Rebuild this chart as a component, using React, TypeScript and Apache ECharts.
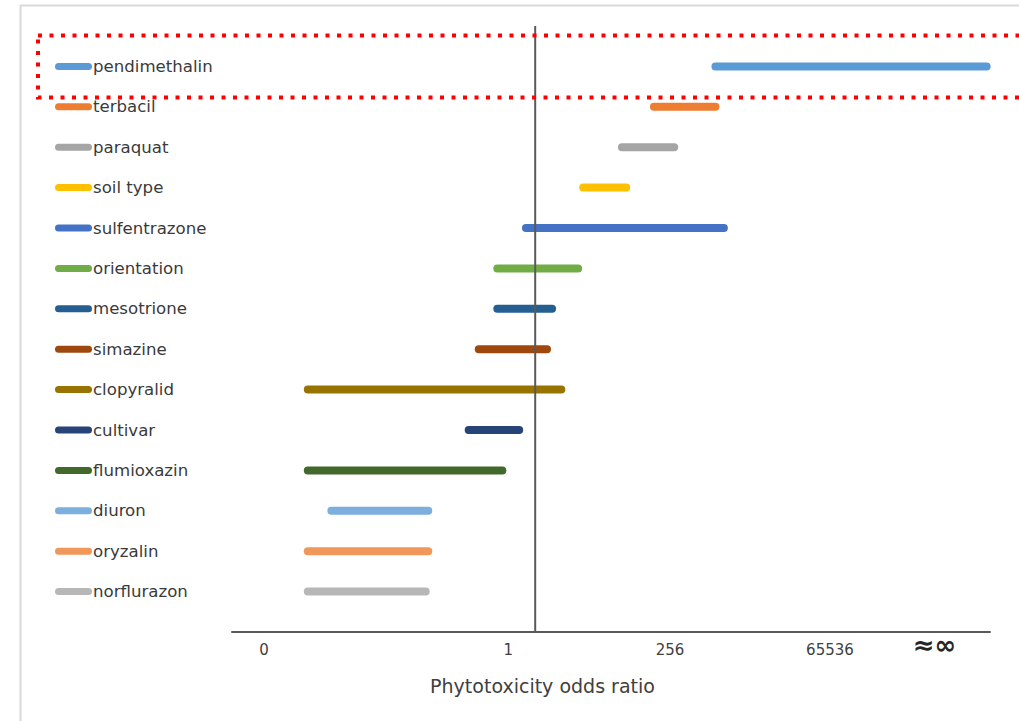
import React, { useEffect, useRef } from "react";
import * as echarts from "echarts";

// Factors, top to bottom
const factors = [
  "pendimethalin",
  "terbacil",
  "paraquat",
  "soil type",
  "sulfentrazone",
  "orientation",
  "mesotrione",
  "simazine",
  "clopyralid",
  "cultivar",
  "flumioxazin",
  "diuron",
  "oryzalin",
  "norflurazon",
];

// Interval ends on the (log2-like) odds ratio scale; 0 is an odds ratio of 1
const lowerEnds = [10.7, 7.05, 5.15, 2.85, -0.55, -2.25, -2.25, -3.35, -13.5, -3.95, -13.5, -12.1, -13.5, -13.5];
const upperEnds = [26.8, 10.7, 8.25, 5.4, 11.2, 2.55, 1.0, 0.7, 1.55, -0.95, -1.95, -6.35, -6.35, -6.5];

const colors = [
  "#5B9BD5", "#ED7D31", "#A5A5A5", "#FFC000", "#4472C4", "#70AD47", "#255E91",
  "#9E480E", "#997300", "#264478", "#43682B", "#7CAFDD", "#F1975A", "#B7B7B7",
];

// Tick labels and where they sit on the scale
const tickPositions = [-16.1, -1.6, 8.0, 17.5, 23.7];
const tickLabels = ["0", "1", "256", "65536", "≈∞"];

const referenceOdds = 0;
const axisTitle = "Phytotoxicity odds ratio";

const FONT = "DejaVu Sans";

export default function App() {
  const ref = useRef<HTMLDivElement>(null);

  useEffect(() => {
    if (!ref.current) return;
    const chart = echarts.init(ref.current, undefined, { renderer: "svg" });

    const intervalSeries = factors.map((name, i) => ({
      name,
      type: "line",
      color: colors[i],
      data: [
        [lowerEnds[i], i],
        [upperEnds[i], i],
      ],
      showSymbol: false,
      symbol: "none",
      lineStyle: { width: 8, color: colors[i], cap: "round" },
      silent: true,
      z: 2,
    }));

    const option: any = {
      animation: false,
      backgroundColor: "#ffffff",
      grid: { left: 232, right: 29, top: 26, bottom: 89, containLabel: false },
      legend: {
        data: factors,
        orient: "vertical",
        left: 55,
        top: 56.4,
        padding: 0,
        itemWidth: 37,
        itemHeight: 7,
        itemGap: 20.4,
        icon: "path://M3.5,0H33.5A3.5,3.5,0,0,1,33.5,7H3.5A3.5,3.5,0,0,1,3.5,0Z",
        selectedMode: false,
        textStyle: {
          fontFamily: FONT,
          fontSize: 16.6,
          lineHeight: 20,
          color: "#3a3a3a",
          padding: [0, 0, 0, -4],
        },
      },
      xAxis: {
        type: "value",
        min: -18,
        max: 27,
        splitLine: { show: false },
        axisTick: { show: false },
        axisLine: { show: true, onZero: false, lineStyle: { color: "#595959", width: 2 } },
        axisLabel: {
          customValues: tickPositions,
          margin: 10,
          fontFamily: FONT,
          fontSize: 15,
          color: "#404040",
          formatter: (v: number) => {
            let best = 0;
            tickPositions.forEach((p, k) => {
              if (Math.abs(p - v) < Math.abs(tickPositions[best] - v)) best = k;
            });
            const t = tickLabels[best];
            return t === "≈∞" ? "{inf|" + t + "}" : t;
          },
          rich: {
            inf: {
              fontFamily: FONT,
              fontSize: 26,
              fontWeight: "bold",
              color: "#262626",
              lineHeight: 6,
            },
          },
        },
      },
      yAxis: {
        type: "value",
        min: -1,
        max: 14,
        inverse: true,
        show: false,
      },
      series: [
        ...intervalSeries,
        {
          name: "odds ratio = 1",
          type: "line",
          data: [
            [referenceOdds, -1],
            [referenceOdds, 14],
          ],
          showSymbol: false,
          symbol: "none",
          lineStyle: { width: 2, color: "#595959" },
          silent: true,
          z: 5,
        },
      ],
      graphic: [
        {
          type: "rect",
          z: -10,
          shape: { x: 20.5, y: 5.5, width: 1100, height: 800 },
          style: { fill: "none", stroke: "#d9d9d9", lineWidth: 2 },
          silent: true,
        },
        {
          type: "text",
          x: 542.5,
          y: 686,
          style: {
            text: axisTitle,
            fontFamily: FONT,
            fontSize: 19,
            fill: "#404040",
            textAlign: "center",
            textVerticalAlign: "middle",
          },
          silent: true,
        },
        {
          type: "rect",
          z: 100,
          shape: { x: 38, y: 35.5, width: 1000, height: 62 },
          style: { fill: "none", stroke: "#ff0000", lineWidth: 4, lineDash: [4, 7.5] },
          silent: true,
        },
      ],
    };

    chart.setOption(option);
    return () => chart.dispose();
  }, []);

  return (
    <div
      ref={ref}
      style={{ position: "fixed", left: 0, top: 0, width: 1019, height: 721 }}
    />
  );
}
